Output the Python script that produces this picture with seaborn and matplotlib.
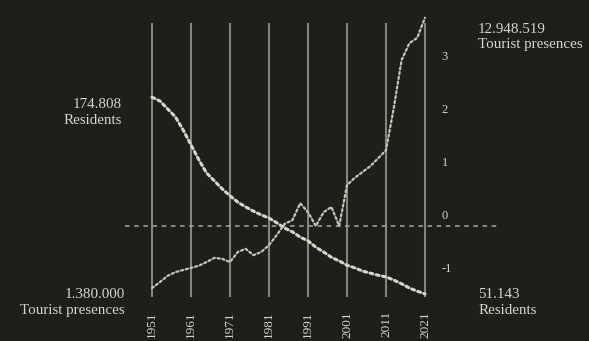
import numpy as np
import pandas as pd
import seaborn as sns
import matplotlib.pyplot as plt

#______Data (standardised values)______

years = [1951, 1953, 1955, 1957, 1959, 1961, 1963, 1965, 1967, 1969,
         1971, 1973, 1975, 1977, 1979, 1981, 1983, 1985, 1987, 1989,
         1991, 1993, 1995, 1997, 1999, 2001, 2003, 2005, 2007, 2009,
         2011, 2013, 2015, 2017, 2019, 2021]

residents_z = [2.43, 2.36, 2.21, 2.06, 1.81, 1.53, 1.25, 1.00, 0.85, 0.70,
               0.57, 0.45, 0.36, 0.28, 0.21, 0.15, 0.06, -0.04, -0.11, -0.21,
               -0.28, -0.40, -0.49, -0.59, -0.66, -0.74, -0.79, -0.85, -0.89, -0.93,
               -0.96, -1.02, -1.09, -1.17, -1.23, -1.28]

tourists_z = [-1.17, -1.06, -0.94, -0.87, -0.83, -0.79, -0.75, -0.68, -0.60, -0.62,
              -0.68, -0.49, -0.43, -0.55, -0.49, -0.36, -0.17, 0.04, 0.11, 0.43,
              0.26, 0.00, 0.26, 0.36, 0.00, 0.77, 0.91, 1.02, 1.13, 1.28,
              1.43, 2.23, 3.13, 3.45, 3.55, 3.93]

decades = [1951, 1961, 1971, 1981, 1991, 2001, 2011, 2021]
y_ticks = [3, 2, 1, 0, -1]

df = pd.DataFrame({"year": years, "Residents": residents_z, "Tourist presences": tourists_z})

#______Style______
bg = "#1e1e1b"
fg = "#d6d6ca"
sns.set_theme(style="dark", rc={"axes.facecolor": bg, "figure.facecolor": bg})
plt.rcParams["font.family"] = ["Liberation Serif", "DejaVu Serif"]

fig = plt.figure(figsize=(5.89, 3.41), dpi=100)
W, H = 589, 341
x0, x1, ytop, ybot = 125, 497, 10, 300
ax = fig.add_axes([x0 / W, (H - ybot) / H, (x1 - x0) / W, (ybot - ytop) / H])

px_year = 3.9
ax.set_xlim(1951 - (152 - x0) / px_year, 2021 + (x1 - 425) / px_year)
unit = 53.0
ax.set_ylim(-(ybot - 226) / unit, (226 - ytop) / unit)

#______Grid lines______
ax.vlines(decades, -(297 - 226) / unit, (226 - 23) / unit, color="#85857c", linewidth=1.5, zorder=1)
ax.axhline(0, color="#a8a89e", linewidth=1.1, linestyle=(0, (3, 3)), zorder=1)

#______Series______
sns.lineplot(data=df, x="year", y="Residents", ax=ax, color=fg, linewidth=2.2,
             linestyle=(0, (1, 1.1)), dash_capstyle="round", zorder=3)
sns.lineplot(data=df, x="year", y="Tourist presences", ax=ax, color="#c4c4b8", linewidth=1.6,
             linestyle=(0, (1, 1.2)), dash_capstyle="round", zorder=3)

#______Axes / ticks______
for s in ax.spines.values():
    s.set_visible(False)
ax.set_xlabel("")
ax.set_ylabel("")
ax.set_xticks(decades)
ax.set_xticklabels([str(d) for d in decades], rotation=90, fontsize=9.5, color=fg, va="top")
ax.tick_params(axis="x", length=0, pad=8)
ax.set_yticks([])
for t in y_ticks:
    ax.text(2025.3, t + 0.08, str(t), fontsize=9, color=fg, ha="left", va="bottom")

#______End labels______
fs = 10.8
ax.text(1943.3, 2.14, "174.808\nResidents", ha="right", va="center",
        fontsize=fs, color=fg, linespacing=1.25)
ax.text(2034.6, 3.57, "12.948.519\nTourist presences", ha="left", va="center",
        fontsize=fs, color=fg, linespacing=1.25)
ax.text(1944.1, -1.44, "1.380.000\nTourist presences", ha="right", va="center",
        fontsize=fs, color=fg, linespacing=1.25, clip_on=False)
ax.text(2034.6, -1.44, "51.143\nResidents", ha="left", va="center",
        fontsize=fs, color=fg, linespacing=1.25, clip_on=False)

ax.grid(False)
fig.savefig("out.png", dpi=100, facecolor=bg)
